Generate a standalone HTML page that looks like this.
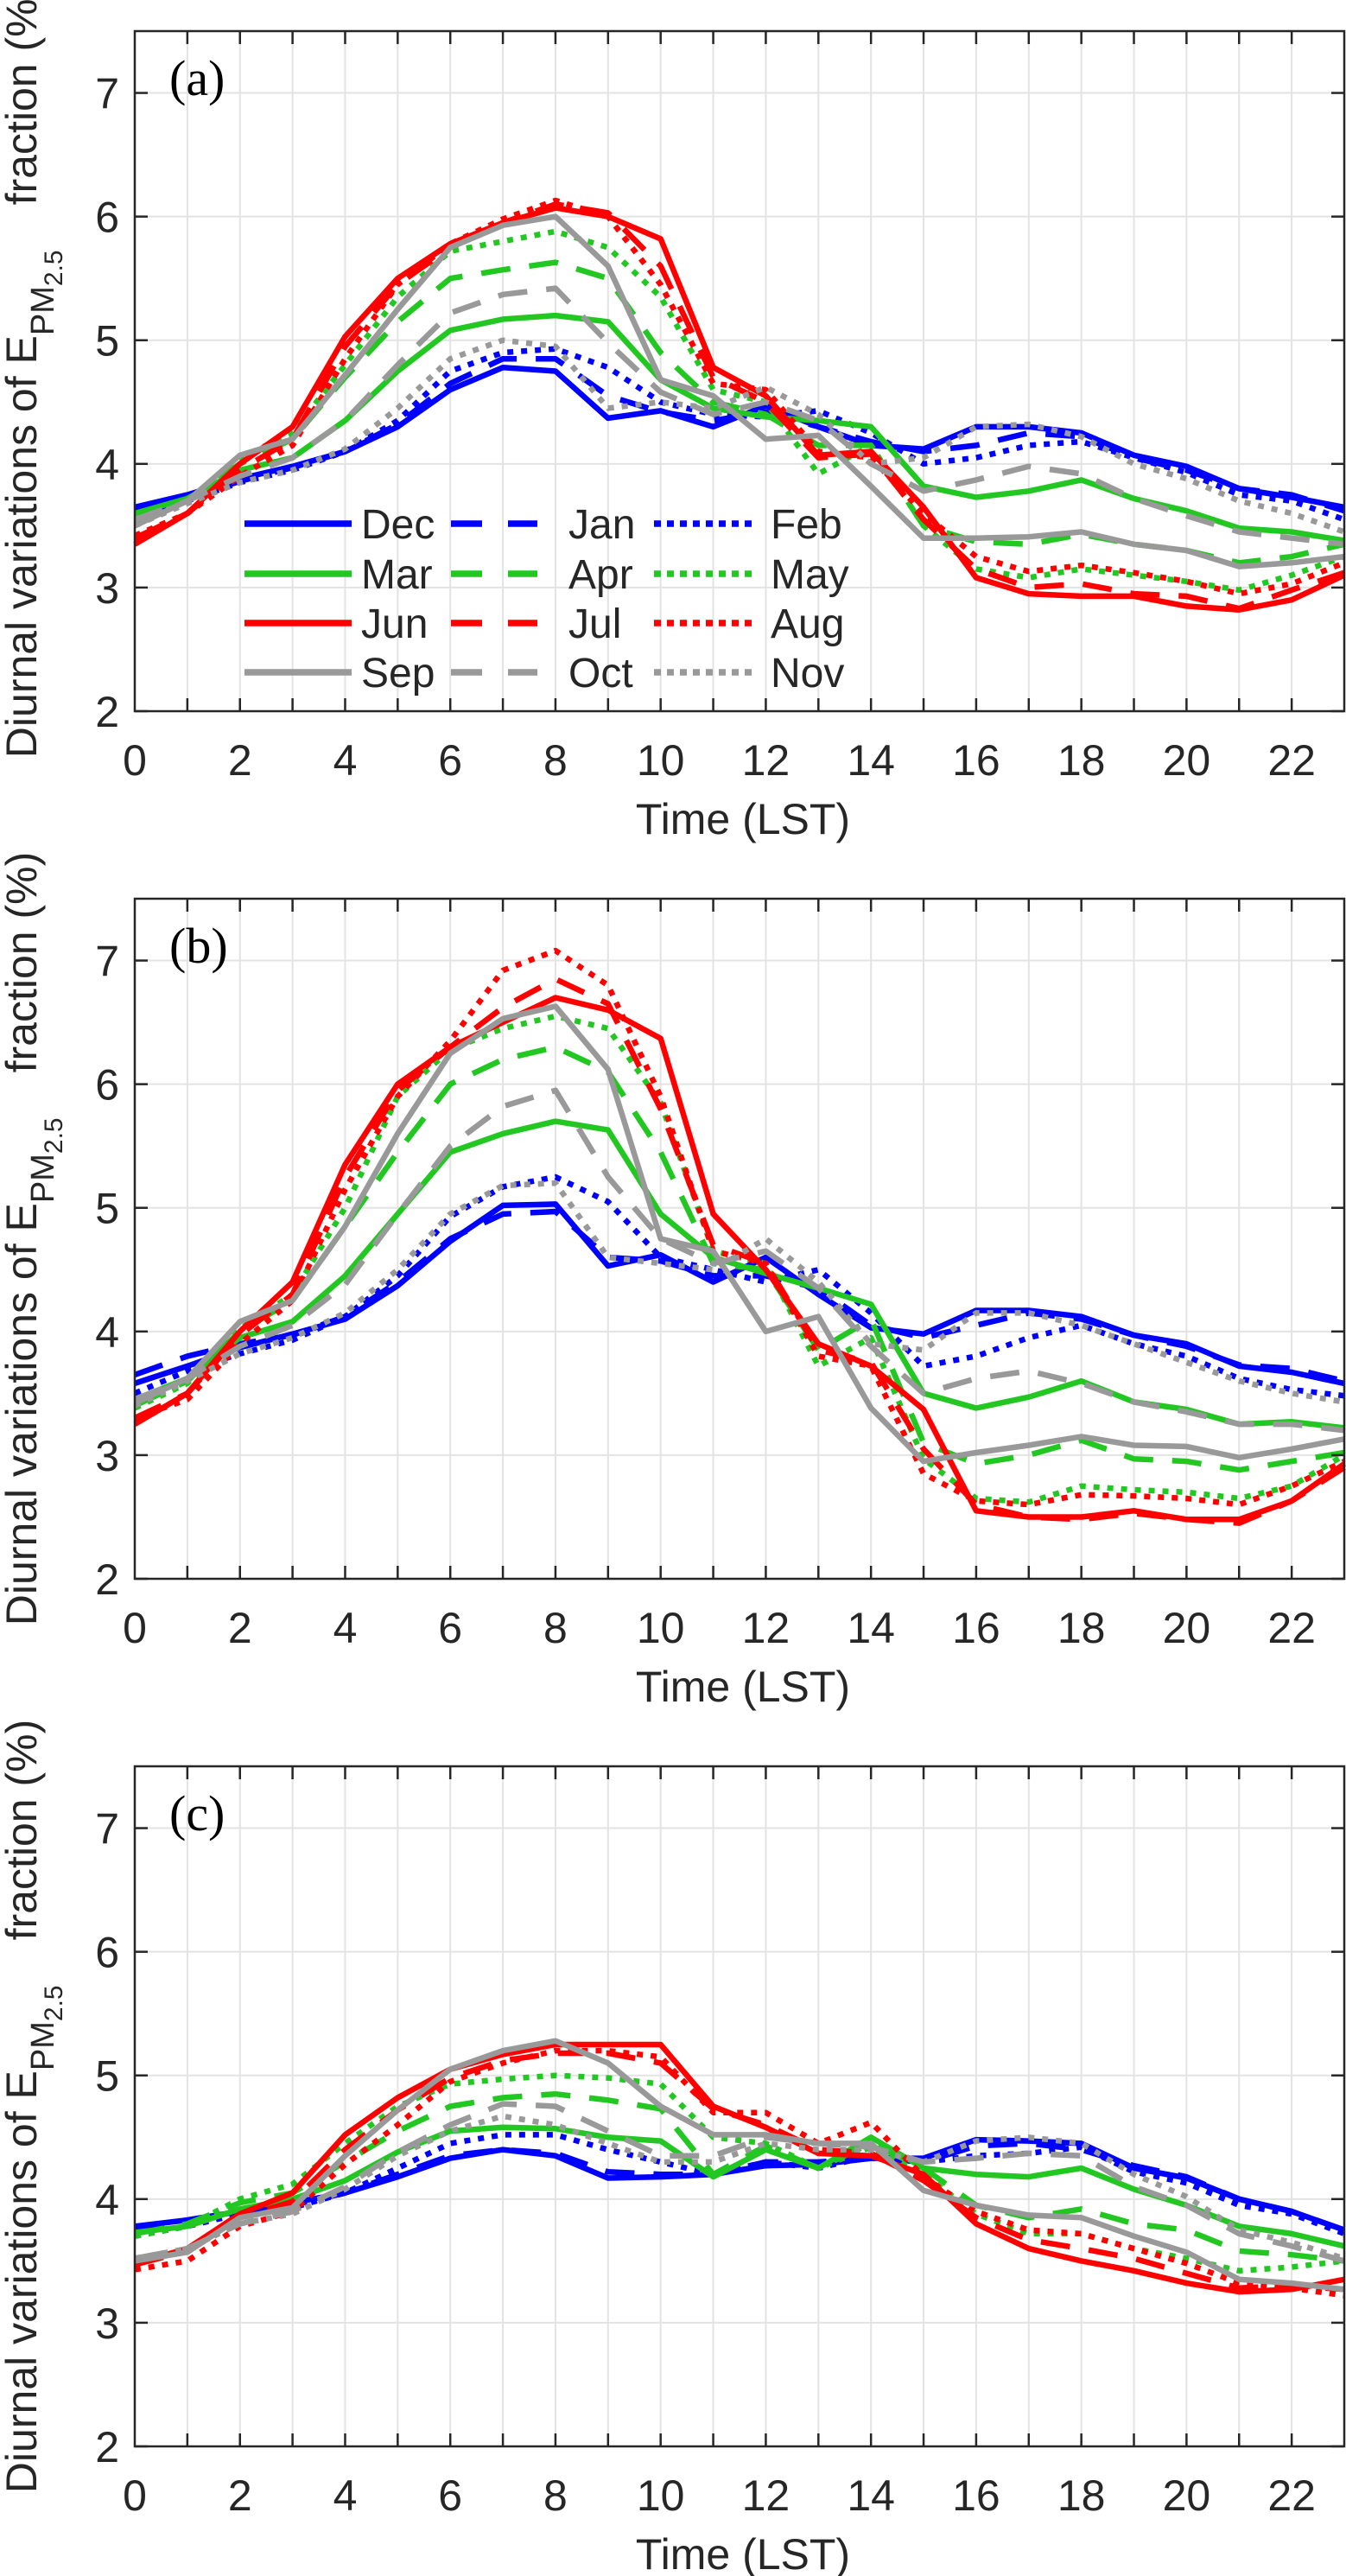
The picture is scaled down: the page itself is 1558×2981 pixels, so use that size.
<!DOCTYPE html>
<html><head><meta charset="utf-8"><style>
html,body{margin:0;padding:0;background:#fff;}
svg{display:block;}
text{font-family:"Liberation Sans",Arial,sans-serif;fill:#262626;}
</style></head><body>
<svg id="fig" xmlns="http://www.w3.org/2000/svg" width="1558" height="2981" viewBox="0 0 1558 2981"></svg>
<script>
const hours = [0,1,2,3,4,5,6,7,8,9,10,11,12,13,14,15,16,17,18,19,20,21,22,23];
const months = ["Dec","Jan","Feb","Mar","Apr","May","Jun","Jul","Aug","Sep","Oct","Nov"];
const xTicks = [0,2,4,6,8,10,12,14,16,18,20,22];
const yTicks = [2,3,4,5,6,7];
const panelLabels = ["(a)","(b)","(c)"];

const aDec=[3.65,3.75,3.88,3.98,4.1,4.3,4.6,4.78,4.75,4.37,4.43,4.3,4.47,4.3,4.15,4.12,4.3,4.3,4.25,4.07,3.98,3.8,3.73,3.65];
const aJan=[3.62,3.72,3.86,3.97,4.1,4.32,4.65,4.85,4.85,4.55,4.42,4.35,4.42,4.3,4.18,4.1,4.15,4.25,4.22,4.05,3.95,3.8,3.75,3.62];
const aFeb=[3.55,3.7,3.85,3.95,4.1,4.35,4.75,4.9,4.93,4.78,4.5,4.4,4.38,4.43,4.25,4.0,4.05,4.15,4.18,4.05,3.93,3.75,3.7,3.55];
const aMar=[3.6,3.72,3.95,4.05,4.35,4.75,5.08,5.17,5.2,5.15,4.68,4.45,4.38,4.35,4.3,3.82,3.73,3.78,3.87,3.72,3.62,3.48,3.45,3.38];
const aApr=[3.55,3.7,4.0,4.2,4.7,5.15,5.5,5.57,5.63,5.5,4.9,4.5,4.4,4.15,4.15,3.5,3.37,3.35,3.43,3.35,3.3,3.2,3.25,3.35];
const aMay=[3.5,3.7,4.05,4.25,4.8,5.35,5.72,5.8,5.88,5.75,5.35,4.6,4.5,3.92,4.15,3.5,3.15,3.08,3.15,3.1,3.05,2.98,3.1,3.25];
const aJun=[3.35,3.6,4.0,4.3,5.03,5.5,5.78,5.95,6.07,6.0,5.82,4.78,4.55,4.07,4.1,3.65,3.08,2.95,2.93,2.93,2.85,2.82,2.9,3.1];
const aJul=[3.4,3.6,3.95,4.2,4.95,5.45,5.75,5.95,6.1,6.03,5.6,4.7,4.5,4.05,4.08,3.55,3.15,3.0,3.03,2.95,2.93,2.83,2.98,3.12];
const aAug=[3.42,3.6,3.9,4.15,4.85,5.45,5.78,5.98,6.13,6.0,5.45,4.65,4.6,4.1,4.05,3.6,3.25,3.13,3.18,3.12,3.05,2.95,3.03,3.2];
const aSep=[3.5,3.7,4.07,4.2,4.72,5.25,5.75,5.93,6.0,5.6,4.68,4.55,4.2,4.23,3.82,3.4,3.4,3.41,3.45,3.35,3.3,3.17,3.2,3.25];
const aOct=[3.55,3.7,3.9,4.05,4.35,4.8,5.22,5.37,5.42,4.98,4.58,4.4,4.5,4.35,4.0,3.78,3.87,3.98,3.92,3.72,3.58,3.45,3.4,3.35];
const aNov=[3.5,3.68,3.85,3.95,4.12,4.45,4.85,5.0,4.95,4.45,4.5,4.45,4.62,4.4,4.0,4.05,4.3,4.32,4.22,4.0,3.88,3.7,3.6,3.45];

const bDec=[3.58,3.72,3.87,3.98,4.1,4.37,4.73,5.02,5.03,4.53,4.62,4.4,4.6,4.3,4.03,3.98,4.17,4.17,4.12,3.97,3.9,3.72,3.67,3.58];
const bJan=[3.65,3.8,3.9,3.97,4.12,4.4,4.75,4.95,4.97,4.6,4.57,4.45,4.45,4.35,4.05,3.95,4.05,4.15,4.1,3.97,3.88,3.73,3.7,3.6];
const bFeb=[3.5,3.68,3.82,3.93,4.12,4.45,4.93,5.17,5.25,5.05,4.6,4.5,4.4,4.5,4.15,3.72,3.8,3.95,4.05,3.9,3.8,3.62,3.53,3.48];
const bMar=[3.45,3.62,3.95,4.08,4.45,4.95,5.45,5.6,5.7,5.63,4.95,4.6,4.47,4.35,4.22,3.5,3.38,3.47,3.6,3.43,3.37,3.25,3.27,3.22];
const bApr=[3.4,3.6,4.0,4.25,4.85,5.45,6.0,6.2,6.3,6.1,5.45,4.55,4.5,3.85,4.1,3.1,2.93,3.0,3.12,2.97,2.95,2.88,2.95,3.02];
const bMay=[3.38,3.58,4.02,4.3,5.0,5.9,6.28,6.45,6.55,6.45,5.85,4.65,4.55,3.72,3.95,2.97,2.65,2.62,2.75,2.72,2.7,2.65,2.75,3.0];
const bJun=[3.25,3.5,4.0,4.4,5.35,6.0,6.3,6.5,6.7,6.6,6.37,4.95,4.5,3.9,3.72,3.37,2.55,2.5,2.5,2.55,2.48,2.48,2.63,2.93];
const bJul=[3.3,3.5,3.97,4.3,5.25,5.95,6.3,6.62,6.85,6.65,5.8,4.7,4.55,3.85,3.75,3.05,2.6,2.5,2.48,2.53,2.48,2.45,2.63,2.9];
const bAug=[3.3,3.45,3.9,4.25,5.15,5.9,6.35,6.92,7.08,6.8,5.9,4.65,4.55,3.8,3.72,2.85,2.63,2.6,2.68,2.67,2.65,2.6,2.75,2.95];
const bSep=[3.42,3.62,4.08,4.25,4.85,5.6,6.25,6.53,6.63,6.12,4.75,4.65,4.0,4.12,3.38,2.95,3.02,3.08,3.15,3.08,3.07,2.98,3.05,3.13];
const bOct=[3.45,3.62,3.88,4.05,4.38,4.95,5.5,5.82,5.95,5.25,4.75,4.55,4.65,4.35,3.88,3.5,3.62,3.68,3.58,3.43,3.35,3.25,3.25,3.2];
const bNov=[3.4,3.6,3.82,3.95,4.15,4.5,4.95,5.18,5.2,4.6,4.55,4.5,4.75,4.4,3.9,3.85,4.15,4.15,4.05,3.9,3.75,3.6,3.5,3.43];

const cDec=[3.78,3.83,3.9,3.97,4.05,4.18,4.33,4.4,4.35,4.17,4.18,4.2,4.27,4.28,4.33,4.33,4.48,4.47,4.45,4.25,4.17,4.0,3.9,3.75];
const cJan=[3.75,3.83,3.9,3.95,4.05,4.2,4.35,4.4,4.37,4.22,4.2,4.2,4.3,4.3,4.33,4.3,4.43,4.45,4.4,4.27,4.18,4.0,3.9,3.75];
const cFeb=[3.7,3.78,3.88,3.93,4.05,4.25,4.45,4.52,4.52,4.4,4.3,4.2,4.3,4.25,4.35,4.3,4.35,4.37,4.42,4.22,4.13,3.95,3.88,3.72];
const cMar=[3.73,3.78,3.92,4.0,4.15,4.38,4.55,4.58,4.57,4.5,4.47,4.18,4.4,4.25,4.5,4.25,4.2,4.18,4.25,4.08,3.95,3.78,3.72,3.62];
const cApr=[3.72,3.8,3.97,4.05,4.3,4.55,4.75,4.82,4.85,4.8,4.73,4.2,4.43,4.25,4.45,4.25,3.95,3.85,3.92,3.8,3.75,3.58,3.55,3.5];
const cMay=[3.7,3.78,4.0,4.12,4.45,4.75,4.93,4.97,5.0,4.98,4.93,4.5,4.45,4.25,4.42,4.2,3.88,3.72,3.72,3.6,3.52,3.42,3.45,3.5];
const cJun=[3.48,3.6,3.88,4.05,4.52,4.82,5.05,5.17,5.25,5.25,5.25,4.75,4.58,4.37,4.35,4.2,3.8,3.6,3.5,3.42,3.32,3.25,3.27,3.35];
const cJul=[3.47,3.58,3.85,3.98,4.4,4.72,4.98,5.12,5.18,5.18,5.1,4.73,4.6,4.4,4.37,4.15,3.85,3.67,3.6,3.52,3.4,3.28,3.3,3.27];
const cAug=[3.43,3.5,3.78,3.9,4.28,4.6,4.95,5.1,5.2,5.2,5.15,4.7,4.7,4.45,4.62,4.18,3.9,3.75,3.72,3.6,3.48,3.32,3.28,3.22];
const cSep=[3.5,3.57,3.85,3.93,4.35,4.72,5.05,5.2,5.28,5.1,4.75,4.52,4.52,4.45,4.45,4.07,3.95,3.87,3.85,3.7,3.57,3.35,3.32,3.27];
const cOct=[3.52,3.6,3.8,3.9,4.1,4.38,4.6,4.77,4.75,4.55,4.35,4.35,4.5,4.45,4.42,4.3,4.33,4.37,4.35,4.1,3.95,3.72,3.62,3.5];
const cNov=[3.52,3.6,3.8,3.88,4.08,4.35,4.55,4.67,4.6,4.45,4.3,4.3,4.45,4.4,4.4,4.3,4.47,4.5,4.45,4.2,4.02,3.75,3.65,3.52];

const panelData = [
  [aDec,aJan,aFeb,aMar,aApr,aMay,aJun,aJul,aAug,aSep,aOct,aNov],
  [bDec,bJan,bFeb,bMar,bApr,bMay,bJun,bJul,bAug,bSep,bOct,bNov],
  [cDec,cJan,cFeb,cMar,cApr,cMay,cJun,cJul,cAug,cSep,cOct,cNov]
];

const NS="http://www.w3.org/2000/svg";
const svg=document.getElementById('fig');
const COLORS=["#0000ff","#0000ff","#0000ff","#22c722","#22c722","#22c722","#ff0000","#ff0000","#ff0000","#999999","#999999","#999999"];
const DASH=["","34 22","7 9","","34 22","7 9","","34 22","7 9","","34 22","7 9"];
const L=156,R=1556,H=787,TOPS=[36,1040,2044],YMIN=2,YMAX=7.5,XMAX=23;
function mk(tag,attrs,parent){const e=document.createElementNS(NS,tag);for(const k in attrs)e.setAttribute(k,attrs[k]);(parent||svg).appendChild(e);return e;}
function xs(h){return L+(h/XMAX)*(R-L);}
function ysFor(top){return v=>top+(YMAX-v)/(YMAX-YMIN)*H;}

TOPS.forEach((top,p)=>{
  const ys=ysFor(top),bot=top+H;
  const g=mk('g',{});
  
  
  for(let h=0;h<=XMAX;h++){const ln=mk('line',{x1:xs(h),x2:xs(h),y1:top,y2:bot,stroke:'#e3e3e3','stroke-width':2},g);
    }
  yTicks.forEach(v=>{const ln=mk('line',{x1:L,x2:R,y1:ys(v),y2:ys(v),stroke:'#e3e3e3','stroke-width':2},g);
    });
  panelData[p].forEach((arr,i)=>{
    const pts=arr.map((v,k)=>xs(hours[k]).toFixed(1)+','+ys(v).toFixed(1)).join(' ');
    const pl=mk('polyline',{points:pts,fill:'none',stroke:COLORS[i],'stroke-width':6.5,'stroke-linejoin':'round'},g);
    if(DASH[i])pl.setAttribute('stroke-dasharray',DASH[i]);
    
    
  });
  const box=mk('rect',{x:L,y:top,width:R-L,height:H,fill:'none',stroke:'#262626','stroke-width':2.5},g);
  
  for(let h=1;h<XMAX;h++){
    mk('line',{x1:xs(h),x2:xs(h),y1:bot,y2:bot-15,stroke:'#262626','stroke-width':2.5},g);
    mk('line',{x1:xs(h),x2:xs(h),y1:top,y2:top+15,stroke:'#262626','stroke-width':2.5},g);
  }
  yTicks.forEach(v=>{
    mk('line',{x1:L,x2:L+15,y1:ys(v),y2:ys(v),stroke:'#262626','stroke-width':2.5},g);
    mk('line',{x1:R,x2:R-15,y1:ys(v),y2:ys(v),stroke:'#262626','stroke-width':2.5},g);
    const t=mk('text',{x:138,y:ys(v)+18,'text-anchor':'end','font-size':50},g);t.textContent=v;
    
  });
  xTicks.forEach(h=>{
    const t=mk('text',{x:xs(h),y:bot+74,'text-anchor':'middle','font-size':50},g);t.textContent=h;
    
  });
  const xt=mk('text',{x:860,y:bot+142,'text-anchor':'middle','font-size':50},g);xt.textContent='Time (LST)';
  
  const pl=mk('text',{x:196,y:top+74,'font-size':58,style:'font-family:"Liberation Serif",serif;fill:#000'},g);pl.textContent=panelLabels[p];
  
  const cy=top+H/2;
  const yt=mk('text',{x:0,y:0,'text-anchor':'middle','font-size':50,transform:`translate(42,${cy}) rotate(-90)`},g);
  
  const s1=mk('tspan',{},yt);s1.textContent='Diurnal variations of E';
  const s2=mk('tspan',{dy:20,'font-size':38},yt);s2.textContent='PM';
  const s3=mk('tspan',{dy:10,'font-size':30},yt);s3.textContent='2.5';
  const s4=mk('tspan',{dy:-30,dx:52},yt);s4.textContent='fraction (%)';

  if(p===0){
    const lg=mk('g',{},g);
    
    const rows=[606,664,721,778],cols=[[283,407,418],[522,622,658],[757,873,892]];
    months.forEach((m,i)=>{
      const r=Math.floor(i/3),c=i%3,y=rows[r];
      const ln=mk('line',{x1:cols[c][0],x2:cols[c][1],y1:y,y2:y,stroke:COLORS[i],'stroke-width':7.5},lg);
      if(DASH[i])ln.setAttribute('stroke-dasharray',DASH[i]==="7 9"?"8 7":"36 30");
      
      const t=mk('text',{x:cols[c][2],y:y+17,'font-size':48},lg);t.textContent=m;
      
    });
  }
});
</script>
</body></html>
